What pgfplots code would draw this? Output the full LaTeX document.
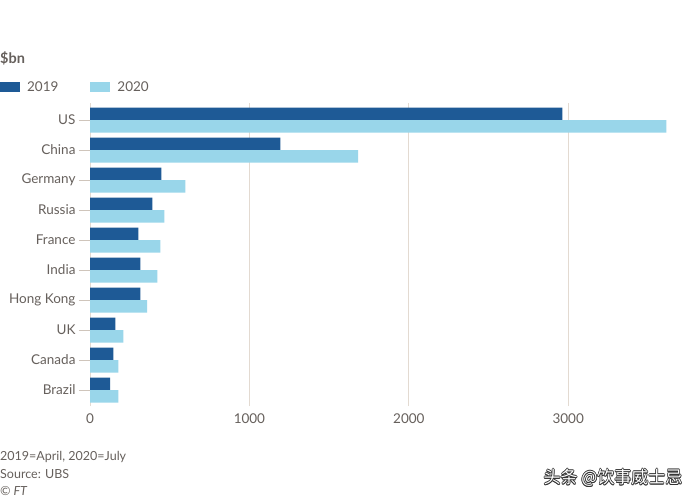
\documentclass[border=0pt]{standalone}
\usepackage{pgfplots}
\pgfplotsset{compat=1.18}
\usepackage{fontspec}
\setmainfont{Lato}
\newfontfamily\cjk{Noto Sans CJK SC}
\definecolor{dark}{HTML}{1E5A96}
\definecolor{light}{HTML}{99D6EA}
\definecolor{txt}{HTML}{66605C}
\definecolor{gridc}{HTML}{E3DAD1}
\definecolor{tickc}{HTML}{CFC5BB}
\begin{document}
\begin{tikzpicture}
\fill[white] (0pt,0pt) rectangle (700pt,500pt);
\begin{axis}[
  at={(90pt,94pt)}, anchor=south west,
  scale only axis, width=597.8pt, height=303pt,
  xmin=0, xmax=3750, ymin=-0.533, ymax=9.567,
  xbar, bar width=12.5pt,
  axis line style={draw=none},
  xtick={0,1000,2000,3000},
  ytick={0,...,9},
  yticklabels={Brazil,Canada,UK,Hong Kong,India,France,Russia,Germany,China,US},
  xtick pos=left, ytick pos=left,
  xmajorgrids, grid style={gridc, line width=1pt},
  tick align=outside, major tick length=11pt,
  xtick style={draw=none},
  ytick style={tickc, line width=1pt},
  /pgf/number format/assume math mode=true,
  /pgf/number format/1000 sep={},
  ticklabel style={font=\fontsize{13.5}{15}\selectfont, text=txt},
  xticklabel style={yshift=7pt},
  legend columns=2,
  legend style={at={(-0.1506,1.053)}, anchor=west, draw=none, fill=none, inner sep=0pt,
    nodes={inner sep=0pt},
    font=\fontsize{13.5}{15}\selectfont, text=txt,
    /tikz/every odd column/.append style={column sep=7pt},
    /tikz/every even column/.append style={column sep=32pt}},
  legend image code/.code={\fill[#1] (0pt,-5pt) rectangle (20pt,5pt);},
]
\addplot[fill=dark, draw=none, bar shift=6.25pt] coordinates {
  (2963,9) (1194,8) (447,7) (391,6) (303,5) (316,4) (316,3) (159,2) (146,1) (127,0)};
\addplot[fill=light, draw=none, bar shift=-6.25pt] coordinates {
  (3615,9) (1682,8) (598,7) (466,6) (441,5) (422,4) (359,3) (209,2) (178,1) (178,0)};
\legend{2019,2020}
\end{axis}
\node[anchor=west, inner sep=0pt, text=txt, font=\bfseries\fontsize{14.5}{16}\selectfont] at (0pt,442pt) {\$bn};
\node[anchor=west, inner sep=0pt, text=txt, font=\fontsize{12.5}{14}\selectfont] at (0pt,43pt) {2019=April, 2020=July};
\node[anchor=west, inner sep=0pt, text=txt, font=\fontsize{12.5}{14}\selectfont] at (0pt,26pt) {Source: UBS};
\node[anchor=west, inner sep=0pt, text=txt, font=\itshape\fontsize{12.5}{14}\selectfont] at (0pt,9pt) {© FT};
\foreach \dx/\dy in {-0.7/0,0.7/0,0/-0.7,0/0.7,-0.5/-0.5,0.5/0.5,-0.5/0.5,0.5/-0.5}
  \node[inner sep=0pt, text=black!80, font=\cjk\fontsize{17}{19}\selectfont] at ([shift={(\dx pt,\dy pt)}]613pt,22pt) {头条 @饮事威士忌};
\node[inner sep=0pt, text=white, font=\cjk\fontsize{17}{19}\selectfont] at (613pt,22pt) {头条 @饮事威士忌};
\end{tikzpicture}
\end{document}
